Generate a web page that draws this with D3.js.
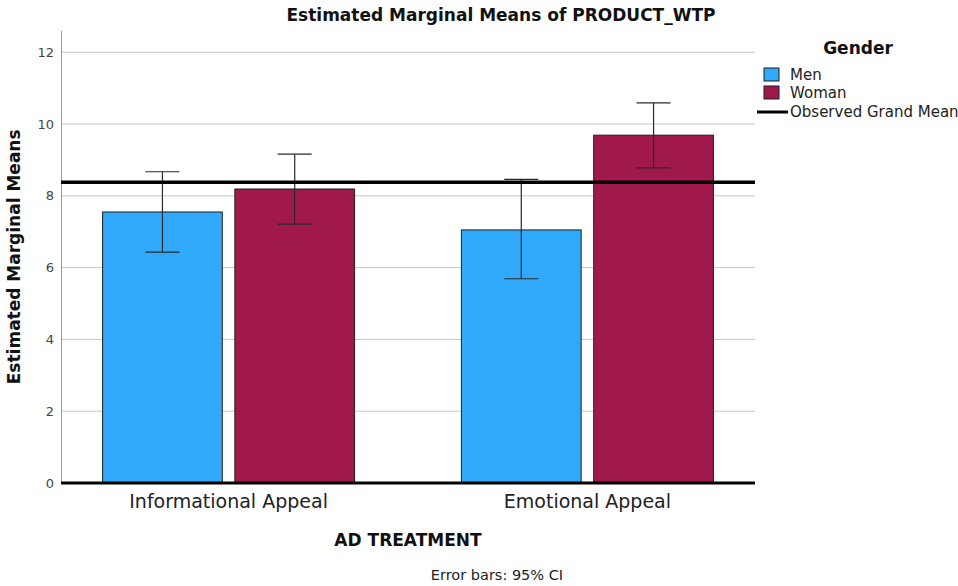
<!DOCTYPE html>
<html>
<head>
<meta charset="utf-8">
<script src="https://cdn.jsdelivr.net/npm/d3@7"></script>
<style>
  body { margin: 0; background: #fff; }
  text { font-family: "DejaVu Sans", sans-serif; }
</style>
</head>
<body>
<div id="chart"></div>
<script>
// data
var categories = ["Informational Appeal", "Emotional Appeal"];
var genders = ["Men", "Woman"];
var menMeans = [7.55, 7.05];
var womanMeans = [8.19, 9.69];
var menLower = [6.43, 5.69];
var menUpper = [8.67, 8.46];
var womanLower = [7.21, 8.78];
var womanUpper = [9.16, 10.59];
var grandMean = 8.38;
var yTicks = [0, 2, 4, 6, 8, 10, 12];
var colors = ["#31a9fb", "#a1184c"];

// rows for drawing
var rows = [];
categories.forEach(function(c, i) {
  rows.push({cat: c, g: "Men", mean: menMeans[i], lo: menLower[i], hi: menUpper[i]});
  rows.push({cat: c, g: "Woman", mean: womanMeans[i], lo: womanLower[i], hi: womanUpper[i]});
});

// set the dimensions and margins of the graph
var W = 958, H = 586;
var margin = {top: 30.7, left: 61},
  width = 694,
  height = 483 - margin.top;

var svg = d3.select("#chart")
  .append("svg")
  .attr("width", W)
  .attr("height", H);

var g = svg.append("g")
  .attr("transform", "translate(" + margin.left + "," + margin.top + ")");

var y = d3.scaleLinear().domain([0, 12.6]).range([height, 0]);

// category centres
var x0 = d3.scalePoint().domain(categories).range([0, width]).padding(0.467);
// bars within a category
var x1 = d3.scaleBand().domain(genders).range([-126, 126]).paddingInner(0.095);
var color = d3.scaleOrdinal().domain(genders).range(colors);

// gridlines
g.selectAll(".grid")
  .data(yTicks.filter(function(d) { return d > 0; }))
  .enter().append("line")
  .attr("x1", 0).attr("x2", width)
  .attr("y1", function(d) { return y(d); })
  .attr("y2", function(d) { return y(d); })
  .attr("stroke", "#c8c8c8")
  .attr("stroke-width", 1);

// left axis
var yAxis = g.append("g").call(d3.axisLeft(y).tickValues(yTicks).tickSize(0).tickPadding(7));
yAxis.select(".domain").attr("stroke", "#9a9a9a").attr("d", "M0.5," + height + "V0");
yAxis.selectAll("text")
  .style("font-family", "DejaVu Sans")
  .style("font-size", "13px")
  .attr("fill", "#444");

// bars
g.selectAll(".bar")
  .data(rows)
  .enter().append("rect")
  .attr("x", function(d) { return x0(d.cat) + x1(d.g); })
  .attr("y", function(d) { return y(d.mean); })
  .attr("width", x1.bandwidth())
  .attr("height", function(d) { return y(0) - y(d.mean); })
  .attr("fill", function(d) { return color(d.g); })
  .attr("stroke", "#1e1e1e")
  .attr("stroke-width", 1);

// error bars
var capW = 17;
var eb = g.selectAll(".err").data(rows).enter().append("g")
  .attr("transform", function(d) { return "translate(" + (x0(d.cat) + x1(d.g) + x1.bandwidth() / 2) + ",0)"; });
eb.append("line")
  .attr("x1", 0).attr("x2", 0)
  .attr("y1", function(d) { return y(d.lo); })
  .attr("y2", function(d) { return y(d.hi); })
  .attr("stroke", "#2a2a2a").attr("stroke-width", 1.2);
eb.append("line")
  .attr("x1", -capW).attr("x2", capW)
  .attr("y1", function(d) { return y(d.hi); })
  .attr("y2", function(d) { return y(d.hi); })
  .attr("stroke", "#2a2a2a").attr("stroke-width", 1.2);
eb.append("line")
  .attr("x1", -capW).attr("x2", capW)
  .attr("y1", function(d) { return y(d.lo); })
  .attr("y2", function(d) { return y(d.lo); })
  .attr("stroke", "#2a2a2a").attr("stroke-width", 1.2);

// grand mean line
g.append("line")
  .attr("x1", 0).attr("x2", width)
  .attr("y1", y(grandMean)).attr("y2", y(grandMean))
  .attr("stroke", "#000").attr("stroke-width", 3.5);

// zero baseline
g.append("line")
  .attr("x1", 0).attr("x2", width)
  .attr("y1", y(0)).attr("y2", y(0))
  .attr("stroke", "#000").attr("stroke-width", 3);

// category labels
g.selectAll(".cat")
  .data(categories)
  .enter().append("text")
  .attr("x", function(d) { return x0(d); })
  .attr("y", height + 25)
  .attr("text-anchor", "middle")
  .style("font-size", "19px")
  .attr("fill", "#222")
  .text(function(d) { return d; });

// titles
svg.append("text")
  .attr("x", 501).attr("y", 21)
  .attr("text-anchor", "middle")
  .style("font-size", "17px").style("font-weight", "bold")
  .attr("fill", "#111")
  .text("Estimated Marginal Means of PRODUCT_WTP");

svg.append("text")
  .attr("transform", "translate(20," + (margin.top + height / 2) + ") rotate(-90)")
  .attr("text-anchor", "middle")
  .style("font-size", "17px").style("font-weight", "bold")
  .attr("fill", "#111")
  .text("Estimated Marginal Means");

svg.append("text")
  .attr("x", margin.left + width / 2).attr("y", 546)
  .attr("text-anchor", "middle")
  .style("font-size", "17px").style("font-weight", "bold")
  .attr("fill", "#111")
  .text("AD TREATMENT");

svg.append("text")
  .attr("x", 497).attr("y", 580)
  .attr("text-anchor", "middle")
  .style("font-size", "14.5px")
  .attr("fill", "#222")
  .text("Error bars: 95% CI");

// legend
var legend = svg.append("g").attr("transform", "translate(757,0)");
legend.append("text")
  .attr("x", 101).attr("y", 54)
  .attr("text-anchor", "middle")
  .style("font-size", "17px").style("font-weight", "bold")
  .attr("fill", "#111")
  .text("Gender");

var li = legend.selectAll(".li").data(genders).enter().append("g")
  .attr("transform", function(d, i) { return "translate(0," + (68 + i * 18) + ")"; });
li.append("rect")
  .attr("x", 7).attr("y", 0)
  .attr("width", 15).attr("height", 13)
  .attr("fill", function(d) { return color(d); })
  .attr("stroke", "#1e1e1e").attr("stroke-width", 1);
li.append("text")
  .attr("x", 33).attr("y", 12)
  .style("font-size", "15px")
  .attr("fill", "#222")
  .text(function(d) { return d; });

legend.append("line")
  .attr("x1", 0).attr("x2", 31)
  .attr("y1", 112).attr("y2", 112)
  .attr("stroke", "#000").attr("stroke-width", 3);
legend.append("text")
  .attr("x", 33).attr("y", 117)
  .style("font-size", "15px")
  .attr("fill", "#222")
  .text("Observed Grand Mean");
</script>
</body>
</html>
